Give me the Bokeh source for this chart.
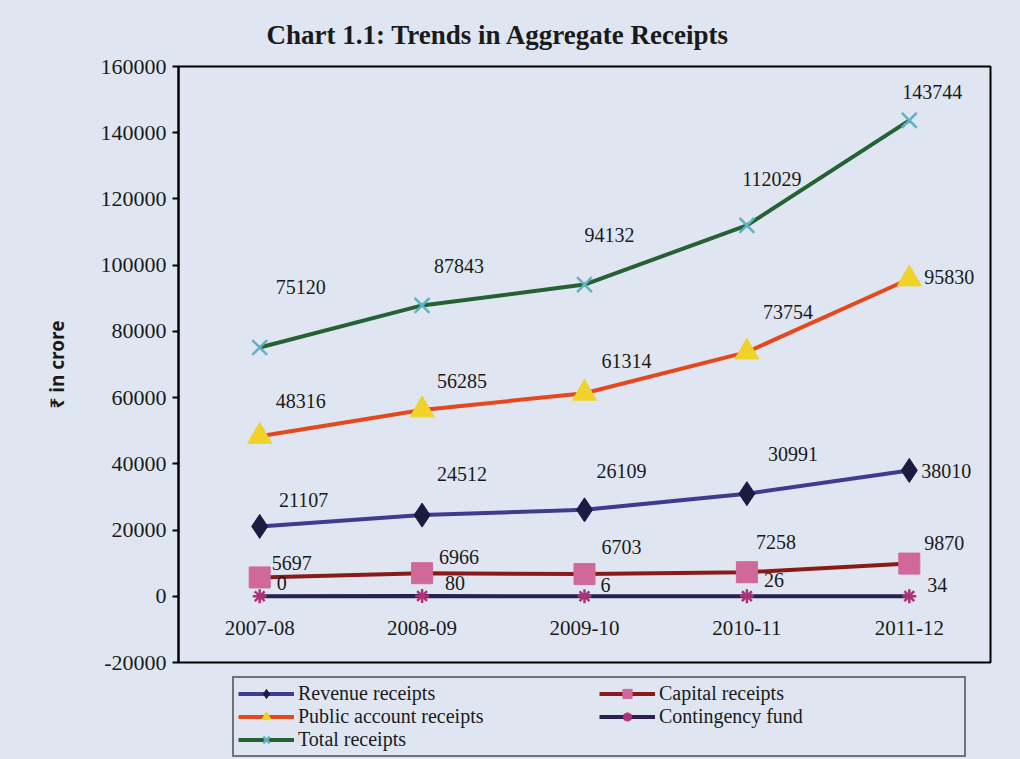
from bokeh.plotting import figure
from bokeh.layouts import column
from bokeh.models import (FactorRange, Range1d, SingleIntervalTicker, NumeralTickFormatter,
                          Legend, LegendItem, ColumnDataSource)
from bokeh.core.properties import value
from bokeh.embed import file_html
from bokeh.resources import INLINE

# ---- data ----
years = ["2007-08", "2008-09", "2009-10", "2010-11", "2011-12"]
revenue = [21107, 24512, 26109, 30991, 38010]
capital = [5697, 6966, 6703, 7258, 9870]
public = [48316, 56285, 61314, 73754, 95830]
contingency = [0, 80, 6, 26, 34]
total = [75120, 87843, 94132, 112029, 143744]
x_axis_crossing = 0  # the category axis crosses the value axis at 0

BG = "#dfe6f1"
SERIF = "Liberation Serif"
W, H1, H2 = 1020, 674, 85
BL, BR = 178, W - 990

p = figure(width=W, height=H1, x_range=FactorRange(*years, range_padding=0),
           y_range=Range1d(-20000, 160000), output_backend="svg", toolbar_location=None,
           x_axis_location=None,
           background_fill_color=BG, border_fill_color=BG,
           min_border_left=BL, min_border_right=BR, min_border_top=63,
           min_border_bottom=H1 - 662)
p.outline_line_color = "black"
p.outline_line_width = 2
p.xgrid.grid_line_color = None
p.ygrid.grid_line_color = None

p.title.text = "Chart 1.1: Trends in Aggregate Receipts"
p.title.align = "left"
p.title.offset = 88
p.title.standoff = 34
p.title.text_font = SERIF
p.title.text_font_size = "27px"
p.title.text_font_style = "bold"
p.title.text_color = "#1a1a1a"

ya = p.yaxis[0]
ya.ticker = SingleIntervalTicker(interval=20000)
ya.formatter = NumeralTickFormatter(format="0")
ya.major_label_text_font = SERIF
ya.major_label_text_font_size = "22px"
ya.major_label_text_color = "#1a1a1a"
ya.axis_line_color = "black"
ya.axis_line_width = 2
ya.major_tick_out = 6
ya.major_tick_in = 0
ya.major_tick_line_width = 2
ya.minor_tick_line_color = None
ya.major_label_standoff = 6
ya.axis_label = "₹ in crore"
ya.axis_label_text_font = "Noto Sans"
ya.axis_label_text_font_size = "19px"
ya.axis_label_text_font_style = "bold"
ya.axis_label_text_color = "#1a1a1a"
ya.axis_label_standoff = 28

# category labels sit just under the zero line (axis crossing), as in the reference
p.text(x=years, y=[x_axis_crossing] * len(years), text=years, y_offset=32,
       text_align="center", text_baseline="middle", text_font=value(SERIF),
       text_font_size="21px", text_color="#1a1a1a")

series = [
    # name, values, line colour, marker, marker fill, marker line, size, label dx, label dy
    ("Revenue receipts", revenue, "#3f3b8e", "diamond", "#1c1a40", "#1c1a40", 24,
     [44, 40, 37, 46, 37], [-26, -41, -39, -40, 1]),
    ("Capital receipts", capital, "#8a1a1a", "square", "#d0689a", "#d0689a", 21,
     [32, 37, 37, 29, 35], [-14, -16, -27, -30, -21]),
    ("Public account receipts", public, "#e6481e", "triangle", "#f0d22a", "#f0d22a", 24,
     [41, 40, 42, 41, 40], [-35, -29, -32, -40, -2]),
    ("Contingency fund", contingency, "#2a2050", "asterisk", "#b0307a", "#b0307a", 14,
     [22, 33, 21, 27, 28], [-13, -13, -11, -16, -11]),
    ("Total receipts", total, "#256233", "x", "#5fb3c4", "#5fb3c4", 21,
     [41, 37, 25, 25, 23], [-61, -39, -50, -46, -28]),
]

# ---- legend strip below the chart (its view range lies above all values, so only
#      the legend swatches of its renderers are visible) ----
p2 = figure(width=W, height=H2, x_range=FactorRange(*years, range_padding=0),
            y_range=Range1d(200000, 300000),
            output_backend="svg", toolbar_location=None,
            x_axis_location=None, y_axis_location=None,
            background_fill_color=BG, border_fill_color=BG,
            min_border_left=BL, min_border_right=BR, min_border_top=0,
            min_border_bottom=0)
p2.outline_line_color = None
p2.xgrid.grid_line_color = None
p2.ygrid.grid_line_color = None

items = {}
for name, vals, lc, mk, fc, mlc, sz, dx, dy in series:
    src = ColumnDataSource(dict(x=years, y=vals, t=[str(v) for v in vals], dx=dx, dy=dy))
    mlw = 2.5 if mk in ("x", "asterisk") else 1
    p.line("x", "y", source=src, line_color=lc, line_width=4)
    p.scatter("x", "y", source=src, marker=mk, size=sz, fill_color=fc,
              line_color=mlc, line_width=mlw)
    p.text("x", "y", text="t", source=src, x_offset="dx", y_offset="dy",
           text_align="center", text_baseline="middle", text_font=value(SERIF),
           text_font_size="20px", text_color="#1a1a1a")
    ln2 = p2.line("x", "y", source=src, line_color=lc, line_width=4)
    sc2 = p2.scatter("x", "y", source=src, marker=mk, size=sz, fill_color=fc,
                     line_color=mlc, line_width=mlw)
    items[name] = LegendItem(label=name, renderers=[ln2, sc2])

order = ["Revenue receipts", "Capital receipts", "Public account receipts",
         "Contingency fund", "Total receipts"]
legend = Legend(items=[items[n] for n in order], location=(54, 2), orientation="horizontal",
                ncols=2, border_line_color="black", border_line_width=2,
                background_fill_color=BG, background_fill_alpha=1,
                label_text_font=SERIF, label_text_font_size="20px", label_text_color="#1a1a1a",
                label_height=23, glyph_height=23, glyph_width=56, label_standoff=4,
                spacing=0, padding=4, margin=0, label_width=301)
p2.add_layout(legend, "center")

layout = column(p, p2, spacing=0, styles={"background-color": BG})
open("out.html", "w").write(file_html(layout, INLINE))
